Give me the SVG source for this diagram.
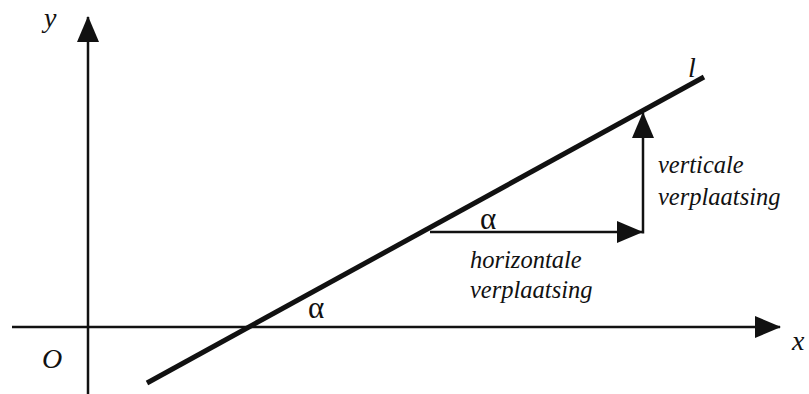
<svg xmlns="http://www.w3.org/2000/svg" width="809" height="394" viewBox="0 0 809 394">
  <defs>
    <marker id="arrow" markerUnits="userSpaceOnUse" markerWidth="26" markerHeight="22" refX="25" refY="11" orient="auto" viewBox="0 0 26 22">
      <path d="M0,0 L26,11 L0,22 Z" fill="#111"/>
    </marker>
    <style>
      .axis { stroke: #111; stroke-width: 2.5; fill: none; }
      .line { stroke: #111; stroke-width: 5; fill: none; }
      .lbl { font-family: "Liberation Serif", "Times New Roman", serif; font-style: italic; fill: #111; }
      .greek { font-family: "Liberation Serif", "Times New Roman", serif; fill: #111; font-size: 31px; }
    </style>
  </defs>
  <rect width="809" height="394" fill="#ffffff"/>
  <g id="connectors">
    <line class="axis" x1="88" y1="394" x2="88" y2="17" marker-end="url(#arrow)"/>
    <line class="axis" x1="12" y1="327" x2="780" y2="327" marker-end="url(#arrow)"/>
    <line class="line" x1="147" y1="383" x2="704" y2="77"/>
    <line class="axis" x1="430" y1="232" x2="642" y2="232" marker-end="url(#arrow)"/>
    <line class="axis" x1="643" y1="233.5" x2="643" y2="113" marker-end="url(#arrow)"/>
  </g>
  <g id="label-y"><text class="lbl" x="44" y="27" font-size="28">y</text></g>
  <g id="label-x"><text class="lbl" x="792" y="350" font-size="28">x</text></g>
  <g id="label-O"><text class="lbl" x="42" y="368" font-size="28">O</text></g>
  <g id="label-l"><text class="lbl" x="688" y="77" font-size="28">l</text></g>
  <g id="alpha-1"><text class="greek" x="480" y="229">α</text></g>
  <g id="alpha-2"><text class="greek" x="308" y="318">α</text></g>
  <g id="label-vertical">
    <text class="lbl" x="658" y="173" font-size="24.5">verticale</text>
    <text class="lbl" x="658" y="205" font-size="24.5">verplaatsing</text>
  </g>
  <g id="label-horizontal">
    <text class="lbl" x="470" y="268" font-size="24.5">horizontale</text>
    <text class="lbl" x="470" y="298" font-size="24.5">verplaatsing</text>
  </g>
</svg>
